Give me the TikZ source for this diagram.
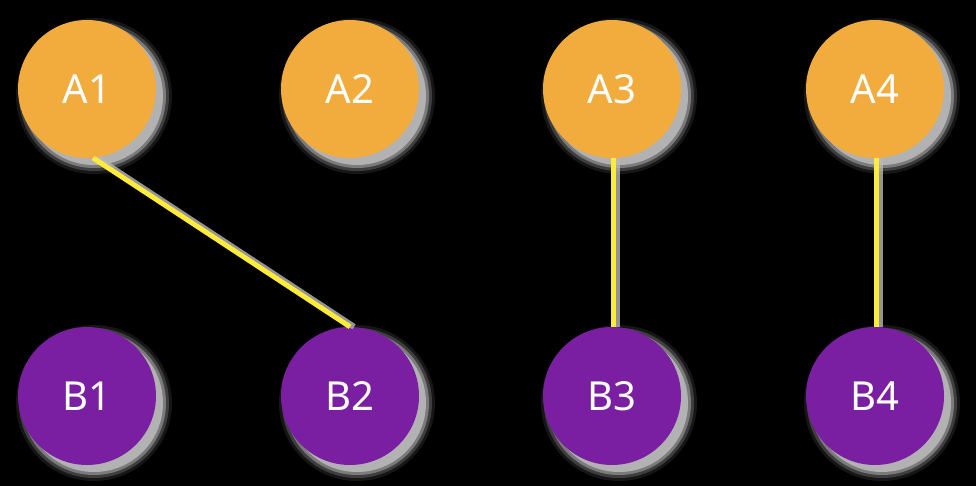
\documentclass[tikz,border=0pt]{standalone}
\usepackage{fontspec}
\setmainfont{Noto Sans}
\begin{document}
\begin{tikzpicture}[x=1pt,y=-1pt,
  ball/.style={circle,minimum size=138pt,inner sep=0pt,text=white,font=\fontsize{40}{40}\selectfont},
  ballA/.style={ball,fill=orangeA},
  ballB/.style={ball,fill=purpleB},
  link/.style={draw=yellowL,line width=5pt},
  linkshadow/.style={draw=shadowC,line width=6pt,opacity=0.8}]
\definecolor{orangeA}{RGB}{242,172,62}
\definecolor{purpleB}{RGB}{123,31,162}
\definecolor{yellowL}{RGB}{255,235,59}
\definecolor{shadowC}{RGB}{185,185,185}
\fill[black] (0,0) rectangle (976,486);
\useasboundingbox (0,0) rectangle (976,486);
% shadows
\foreach \cx/\cy in {87/89,350/89,612/89,875/89,87/396,350/396,612/396,875/396}{
  \fill[shadowC,opacity=0.12] (\cx+7,\cy+7) circle (78);
  \fill[shadowC,opacity=0.25] (\cx+7,\cy+7) circle (75);
  \fill[shadowC,opacity=0.5] (\cx+7,\cy+7) circle (72);
  \fill[shadowC,opacity=0.9] (\cx+7,\cy+7) circle (69);
}
\node[ballA] (A1) at (87,89) {A1};
\node[ballA] (A2) at (350,89) {A2};
\node[ballA] (A3) at (612,89) {A3};
\node[ballA] (A4) at (875,89) {A4};
\node[ballB] (B1) at (87,396) {B1};
\node[ballB] (B2) at (350,396) {B2};
\node[ballB] (B3) at (612,396) {B3};
\node[ballB] (B4) at (875,396) {B4};
% connectors
\draw[linkshadow] ([xshift=4pt]A1.-85) -- ([xshift=4pt]B2.north);
\draw[linkshadow] ([xshift=4pt]A3.-89) -- ([xshift=4pt]B3.89);
\draw[linkshadow] ([xshift=4pt]A4.-89) -- ([xshift=4pt]B4.89);
\draw[link] (A1.-85) -- (B2.north);
\draw[link] (A3.-89) -- (B3.89);
\draw[link] (A4.-89) -- (B4.89);
\end{tikzpicture}
\end{document}
